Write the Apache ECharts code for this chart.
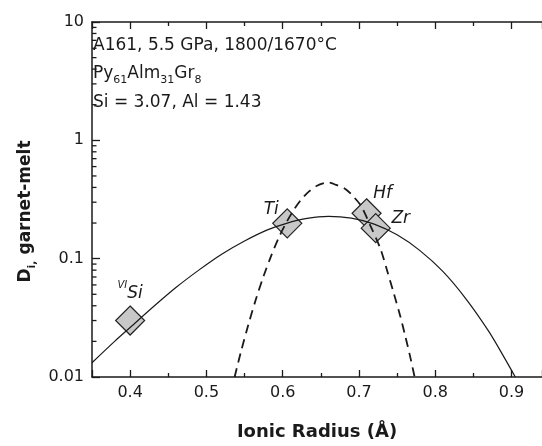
<!DOCTYPE html>
<html>
<head>
<meta charset="utf-8">
<script src="https://cdn.jsdelivr.net/npm/echarts@6/dist/echarts.min.js"></script>
<style>
  html, body { margin: 0; padding: 0; background: #fff; }
  #chart { width: 542px; height: 446px; }
</style>
</head>
<body>
<div id="chart"></div>
<script>
// measured partition coefficients
var ionNames = ["Si", "Ti", "Hf", "Zr"];
var ionRadius = [0.40, 0.606, 0.71, 0.722];
var ionD = [0.030, 0.199, 0.242, 0.181];

// solid lattice-strain fit
var fitX = [0.35, 0.38, 0.40, 0.43, 0.46, 0.49, 0.52, 0.55, 0.58, 0.605, 0.63, 0.66, 0.69, 0.72, 0.75, 0.78, 0.81, 0.84, 0.87, 0.89, 0.905];
var fitY = [0.0132, 0.0201, 0.0262, 0.039, 0.057, 0.080, 0.109, 0.141, 0.175, 0.199, 0.218, 0.228, 0.220, 0.196, 0.159, 0.117, 0.078, 0.046, 0.0244, 0.0148, 0.0100];

// dashed fit
var dashX = [0.537, 0.545, 0.555, 0.565, 0.575, 0.585, 0.595, 0.605, 0.615, 0.625, 0.635, 0.645, 0.655, 0.661, 0.67, 0.683, 0.693, 0.703, 0.715, 0.728, 0.737, 0.746, 0.754, 0.761, 0.767, 0.773];
var dashY = [0.010, 0.0161, 0.0277, 0.0456, 0.0713, 0.106, 0.151, 0.203, 0.261, 0.320, 0.372, 0.413, 0.436, 0.440, 0.420, 0.385, 0.333, 0.278, 0.190, 0.122, 0.079, 0.050, 0.033, 0.0218, 0.015, 0.010];

var yTickLabels = ["0.01", "0.1", "1", "10"];
var yMinorTicks = [0.02, 0.03, 0.04, 0.05, 0.06, 0.07, 0.08, 0.09,
                   0.2, 0.3, 0.4, 0.5, 0.6, 0.7, 0.8, 0.9,
                   2, 3, 4, 5, 6, 7, 8, 9];
var infoLines = ["A161, 5.5 GPa, 1800/1670°C", "{n|Py}{s|61}{n|Alm}{s|31}{n|Gr}{s|8}", "Si = 3.07, Al = 1.43"];

var FONT = "DejaVu Sans";
var INK = "#1a1a1a";
var xMin = 0.35, xMax = 0.94;

// label placement for each point (offset from the diamond centre)
var labelOffsets = [[0, -29], [-16, -16], [16, -22], [25, -12]];
var labelTexts = ["{sup|VI}{it|Si}", "{it|Ti}", "{it|Hf}", "{it|Zr}"];

var chart = echarts.init(document.getElementById("chart"));

var xAxisCommon = {
  type: "value",
  min: xMin,
  max: xMax,
  splitNumber: 6,
  axisLine: { show: true, onZero: false, lineStyle: { color: INK, width: 1.5 } },
  axisTick: { show: true, inside: true, length: 7, lineStyle: { color: INK, width: 1.3 } },
  minorTick: { show: true, splitNumber: 2, length: 4, lineStyle: { color: INK, width: 1.3 } },
  splitLine: { show: false },
  minorSplitLine: { show: false }
};

chart.setOption({
  animation: false,
  backgroundColor: "#fff",
  grid: { left: 92, right: 0, top: 22, bottom: 62 },
  xAxis: [
    Object.assign({}, xAxisCommon, {
      position: "bottom",
      name: "Ionic Radius (Å)",
      nameLocation: "middle",
      nameGap: 46,
      nameTextStyle: { fontFamily: FONT, fontWeight: "bold", fontSize: 18, color: INK },
      axisLabel: {
        show: true, margin: 8, showMinLabel: false, showMaxLabel: false,
        fontFamily: FONT, fontSize: 16, color: INK,
        formatter: function (v) { return v.toFixed(1); }
      }
    }),
    Object.assign({}, xAxisCommon, {
      position: "top",
      axisLabel: { show: false }
    })
  ],
  yAxis: {
    type: "log",
    logBase: 10,
    min: 0.01,
    max: 10,
    name: "{b|D}{s|i,}{b| garnet-melt}",
    nameLocation: "middle",
    nameRotate: 90,
    nameGap: 56,
    nameTextStyle: {
      fontFamily: FONT, fontWeight: "bold", fontSize: 17, color: INK,
      padding: [0, 24, 0, 0],
      rich: {
        b: { fontFamily: FONT, fontWeight: "bold", fontSize: 17, color: INK, lineHeight: 18, verticalAlign: "top" },
        s: { fontFamily: FONT, fontWeight: "bold", fontSize: 11, color: INK, lineHeight: 11, padding: [12, 0, 0, 0] }
      }
    },
    axisLine: { show: true, lineStyle: { color: INK, width: 1.5 } },
    axisTick: { show: true, inside: true, length: 8, lineStyle: { color: INK, width: 1.3 } },
    splitLine: { show: false },
    axisLabel: {
      margin: 8, fontFamily: FONT, fontSize: 16, color: INK,
      formatter: function (v, i) { return yTickLabels[i]; }
    }
  },
  graphic: [
    { type: "text", left: 93, top: 37, style: { text: infoLines[0], fontFamily: FONT, fontSize: 17, fill: INK } },
    {
      type: "text", left: 93, top: 61,
      style: {
        text: infoLines[1], fontFamily: FONT, fontSize: 17, fill: INK,
        rich: {
          n: { fontFamily: FONT, fontSize: 17, lineHeight: 17, verticalAlign: "top", fill: INK },
          s: { fontFamily: FONT, fontSize: 11, lineHeight: 11, padding: [14, 0, 0, 0], fill: INK }
        }
      }
    },
    { type: "text", left: 93, top: 94, style: { text: infoLines[2], fontFamily: FONT, fontSize: 17, fill: INK } }
  ],
  series: [
    {
      // minor ticks of the log axis
      type: "custom",
      silent: true,
      clip: false,
      data: yMinorTicks.map(function (v) { return [xMin, v]; }),
      renderItem: function (params, api) {
        var p = api.coord([api.value(0), api.value(1)]);
        return {
          type: "line",
          shape: { x1: p[0], y1: p[1], x2: p[0] + 4.5, y2: p[1] },
          style: { stroke: INK, lineWidth: 1.3 }
        };
      },
      z: 3
    },
    {
      type: "scatter",
      symbol: "diamond",
      symbolSize: 29,
      itemStyle: { color: "#c8c8c8", borderColor: "#222", borderWidth: 1.2, opacity: 1 },
      data: ionNames.map(function (n, i) {
        return {
          name: n,
          value: [ionRadius[i], ionD[i]],
          label: {
            show: true,
            position: "inside",
            offset: labelOffsets[i],
            formatter: labelTexts[i],
            rich: {
              it: { fontFamily: FONT, fontStyle: "italic", fontSize: 17, color: INK, lineHeight: 22, verticalAlign: "bottom" },
              sup: { fontFamily: FONT, fontStyle: "italic", fontSize: 10, color: INK, lineHeight: 10, verticalAlign: "top" }
            }
          }
        };
      }),
      z: 2
    },
    {
      type: "line",
      smooth: 0.3,
      symbol: "none",
      data: fitX.map(function (x, i) { return [x, fitY[i]]; }),
      lineStyle: { color: INK, width: 1.2 },
      z: 4
    },
    {
      type: "line",
      smooth: 0.3,
      symbol: "none",
      data: dashX.map(function (x, i) { return [x, dashY[i]]; }),
      lineStyle: { color: INK, width: 1.8, type: [9, 6] },
      z: 4
    }
  ]
});
</script>
</body>
</html>
